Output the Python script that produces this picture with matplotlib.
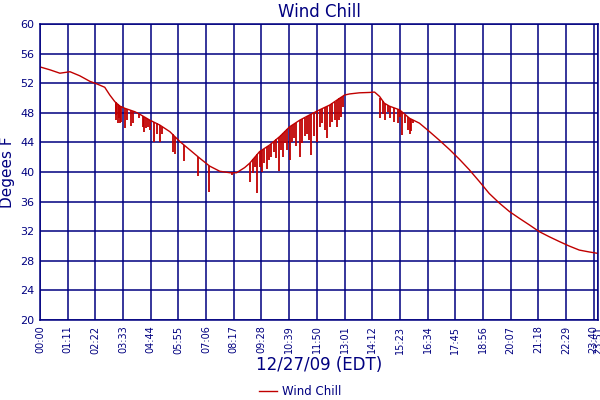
import numpy as np
import matplotlib
matplotlib.use("Agg")
import matplotlib.pyplot as plt

# wind chill baseline, minutes after midnight -> deg F
base_t = [0, 26, 51, 77, 102, 128, 146, 166, 179, 192, 205, 218, 243, 256, 282,
          307, 333, 359, 384, 410, 435, 461, 487, 504, 525, 538, 563, 589, 615,
          640, 666, 691, 717, 743, 768, 781, 794, 819, 845, 858, 871, 883, 896,
          922, 948, 973, 999, 1024, 1050, 1076, 1101, 1127, 1152, 1178, 1204,
          1229, 1255, 1280, 1306, 1332, 1357, 1383, 1408, 1431]
base_v = [54.2, 53.8, 53.35, 53.55, 53.0, 52.25, 51.9, 51.45, 50.4, 49.5, 48.9,
          48.6, 48.15, 47.8, 47.0, 46.35, 45.45, 44.1, 43.0, 41.85, 40.8, 40.1,
          39.9, 39.9, 40.6, 41.2, 42.75, 43.65, 44.8, 46.1, 47.0, 47.7, 48.4,
          49.05, 49.95, 50.4, 50.55, 50.7, 50.75, 50.8, 50.2, 49.3, 48.9, 48.4,
          47.25, 46.6, 45.45, 44.3, 43.05, 41.7, 40.3, 38.7, 37.1, 35.8, 34.65,
          33.75, 32.85, 31.95, 31.25, 30.6, 30.0, 29.45, 29.2, 29.0]

# short dips (gust readings): time in minutes, lowest value
dip_t = [194, 196, 199, 202, 205, 207, 218, 222, 233, 239, 254, 263, 266, 272,
         277, 282, 293, 299, 307, 313, 340, 346, 370, 405, 434, 493,
         538, 546, 551, 557, 565, 569, 574, 581, 587, 593, 600, 606, 613, 619,
         623, 629, 634, 640, 646, 651, 657, 666, 673, 679, 686, 691, 696, 702,
         710, 717, 724, 730, 736, 743, 750, 756, 762, 768, 773, 777,
         873, 879, 885, 892, 898, 909, 918, 922, 929, 937, 943, 950, 952, 956]
dip_v = [47.7, 47.0, 46.6, 47.25, 46.6, 46.7, 46.0, 47.0, 46.25, 46.6, 47.25,
         46.1, 45.45, 45.9, 46.1, 45.7, 44.1, 45.2, 44.1, 45.2, 42.75, 42.5,
         41.5, 39.5, 37.35, 39.6,
         38.7, 39.8, 40.7, 37.2, 40.7, 40.05, 41.2, 40.35, 41.6, 42.05, 42.75,
         41.85, 40.2, 43.0, 42.05, 43.9, 43.0, 41.6, 44.1, 44.55, 43.45, 42.05,
         43.9, 44.8, 45.2, 44.3, 42.3, 44.8, 44.1, 46.1, 46.6, 45.7, 44.55,
         46.1, 46.8, 47.0, 46.1, 47.0, 47.5, 48.8,
         47.25, 47.9, 47.0, 48.15, 47.25, 46.8, 46.6, 47.5, 45.0, 46.6, 45.7,
         45.2, 45.6, 46.6]

tick_t = [0, 71, 142, 213, 284, 355, 426, 497, 568, 639, 710, 781, 852, 923,
          994, 1065, 1136, 1207, 1278, 1349, 1420, 1431]
tick_lbl = ["00:00", "01:11", "02:22", "03:33", "04:44", "05:55", "07:06",
            "08:17", "09:28", "10:39", "11:50", "13:01", "14:12", "15:23",
            "16:34", "17:45", "18:56", "20:07", "21:18", "22:29", "23:40", "23:51"]
y_ticks = [20, 24, 28, 32, 36, 40, 44, 48, 52, 56, 60]

navy = "#000080"
red = "#c00000"

fig = plt.figure(figsize=(6, 4), dpi=100)
ax = fig.add_axes([40/600, 80/400, 558/600, 296/400])

line, = ax.plot(base_t, base_v, color=red, lw=1.0, label="Wind Chill")
# dips hang down from the curve
dip_top = np.interp(dip_t, base_t, base_v)
ax.vlines(dip_t, dip_v, dip_top, color=red, lw=1.3)

ax.set_xlim(0, 1431)
ax.set_ylim(20, 60)
ax.set_xticks(tick_t)
ax.set_xticklabels(tick_lbl, rotation=90, fontsize=7, color=navy)
ax.set_yticks(y_ticks)
ax.set_yticklabels([str(v) for v in y_ticks], fontsize=8, color=navy)
ax.tick_params(length=0, pad=4)
ax.grid(True, color=navy, lw=1.1)
ax.set_axisbelow(True)
for s in ax.spines.values():
    s.set_color(navy)
    s.set_linewidth(1.1)

ax.set_title("Wind Chill", color=navy, fontsize=12, pad=5)
ax.set_ylabel("Degees F", color=navy, fontsize=11, labelpad=4)
ax.set_xlabel("12/27/09 (EDT)", color=navy, fontsize=12, labelpad=2)

fig.legend(handles=[line], loc="lower center", bbox_to_anchor=(0.5, -0.022),
           frameon=False, fontsize=8.5, labelcolor=navy, handlelength=1.5,
           handletextpad=0.4)

fig.savefig("out.png", dpi=100)
